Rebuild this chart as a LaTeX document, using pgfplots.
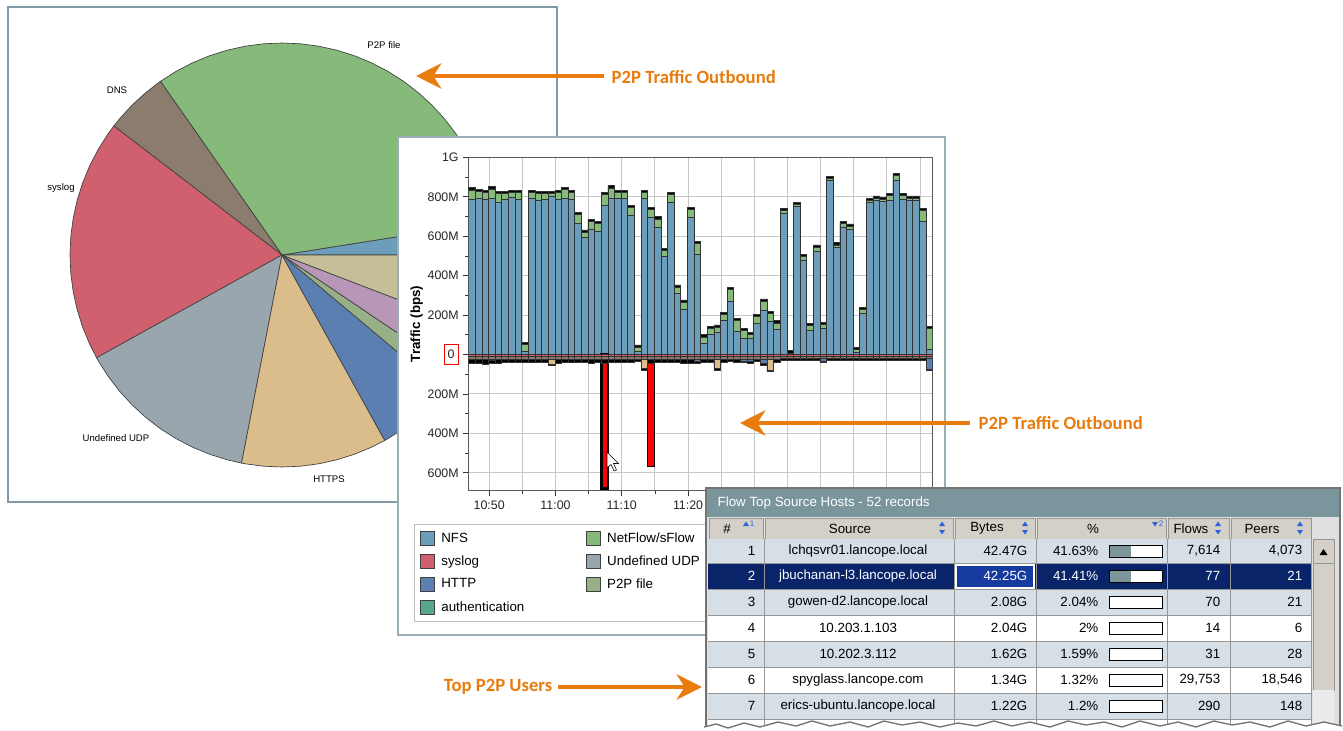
\documentclass[border=0pt]{standalone}
\usepackage{pgfplots}
\pgfplotsset{compat=1.18}
\usepackage{pgfplotstable}
\usepackage{fontspec}
\setmainfont{Liberation Sans}
\newfontfamily\carlito{Carlito}
\usetikzlibrary{arrows.meta}

\definecolor{nfs}{RGB}{108,157,186}
\definecolor{netflow}{RGB}{134,186,122}
\definecolor{syslogc}{RGB}{208,96,110}
\definecolor{httpc}{RGB}{92,127,178}
\definecolor{authc}{RGB}{86,168,138}
\definecolor{udpc}{RGB}{154,166,174}
\definecolor{p2pc}{RGB}{152,176,133}
\definecolor{dnsc}{RGB}{139,124,110}
\definecolor{httpsc}{RGB}{219,189,140}
\definecolor{purplec}{RGB}{183,150,183}
\definecolor{khakic}{RGB}{196,191,150}
\definecolor{orangec}{RGB}{232,124,14}
\definecolor{panelc}{RGB}{128,154,166}
\definecolor{titlec}{RGB}{122,149,155}
\definecolor{headc}{RGB}{212,208,200}
\definecolor{rowc}{RGB}{214,222,230}
\definecolor{selc}{RGB}{10,36,106}
\definecolor{selcell}{RGB}{22,58,160}
\definecolor{gridc}{RGB}{150,150,150}
\definecolor{pctc}{RGB}{124,150,154}
\definecolor{sortc}{RGB}{40,100,220}

\newcommand{\zerobox}{{\setlength{\fboxsep}{2.3pt}\setlength{\fboxrule}{0.7pt}\fcolorbox{red}{white}{\rule[-2pt]{0pt}{9.5pt}0}}}
\newcommand{\tf}{\fontsize{10}{12}\selectfont}
\newcommand{\trow}[7]{%
  \node[anchor=east] at (760,#1) {#2};
  \node at (858,#1) {#3};
  \node[anchor=east] at (1032,#1) {#4};
  \node[anchor=east] at (1103,#1) {#5};
  \node[anchor=east] at (1225,#1) {#6};
  \node[anchor=east] at (1307,#1) {#7};}

% x = bar index (one bar per minute, bar 1 = 10:47), T = top of stack, G = top of NetFlow, B = top of NFS,
% N = bottom of outbound stack, D = DNS layer, R = syslog layer (all in Mbps)
\pgfplotstableread{
x T G B N D R
1 846 835 787 -46 -22 -10
2 839 828 790 -44 -22 -10
3 834 823 785 -48 -22 -10
4 851 840 792 -46 -22 -10
5 826 815 772 -44 -22 -10
6 829 818 787 -42 -22 -10
7 834 823 797 -40 -22 -10
8 834 823 787 -42 -22 -10
9 62 51 15 -40 -22 -10
10 834 823 792 -40 -22 -10
11 829 818 784 -38 -22 -10
12 829 818 787 -40 -22 -10
13 826 815 801 -57 -22 -10
14 834 823 787 -44 -22 -10
15 848 837 792 -40 -22 -10
16 831 820 787 -42 -22 -10
17 721 710 665 -42 -22 -10
18 632 621 595 -40 -22 -10
19 687 676 635 -44 -22 -10
20 674 663 623 -40 -22 -10
21 823 812 758 -44 -22 -10
22 856 845 792 -38 -22 -10
23 831 820 792 -40 -22 -10
24 834 823 792 -42 -22 -10
25 755 744 708 -38 -22 -10
26 49 38 15 -36 -22 -10
27 834 823 792 -80 -22 -10
28 745 734 696 -44 -22 -10
29 699 688 645 -40 -22 -10
30 539 528 497 -42 -22 -10
31 823 812 772 -40 -22 -10
32 353 342 311 -42 -22 -10
33 277 266 230 -44 -22 -10
34 745 734 696 -46 -22 -10
35 573 562 508 -44 -22 -10
36 100 89 57 -40 -22 -10
37 142 131 100 -38 -22 -10
38 150 139 113 -78 -22 -10
39 215 204 172 -40 -22 -10
40 341 330 272 -36 -22 -10
41 184 173 120 -40 -22 -10
42 133 122 83 -42 -22 -10
43 111 100 83 -44 -22 -10
44 204 193 159 -36 -22 -10
45 282 271 226 -54 -22 -10
46 218 207 167 -86 -22 -10
47 171 160 130 -38 -22 -10
48 741 730 716 -32 -18 -8
49 20 6 0 -30 -18 -8
50 772 761 750 -30 -18 -8
51 508 497 480 -30 -18 -8
52 159 148 125 -32 -18 -8
53 556 545 522 -32 -18 -8
54 162 151 133 -40 -18 -8
55 905 894 882 -30 -18 -8
56 567 556 542 -30 -18 -8
57 674 663 644 -32 -18 -8
58 662 651 635 -30 -18 -8
59 35 24 10 -32 -18 -8
60 238 227 209 -30 -18 -8
61 792 781 770 -28 -18 -8
62 804 793 784 -28 -18 -8
63 797 786 775 -30 -18 -8
64 818 807 780 -28 -18 -8
65 919 908 885 -30 -18 -8
66 818 807 787 -30 -18 -8
67 804 793 780 -32 -18 -8
68 804 793 780 -30 -18 -8
69 741 730 677 -28 -18 -8
70 142 131 27 -82 -18 -8
}\bars

\pgfplotsset{
  sw/.style={legend image code/.code={\draw[fill=#1,draw=black!75,line width=0.6pt] (0pt,-5.25pt) rectangle (10.5pt,5.25pt);}},
  bb/.style={ybar, bar width=1, bar shift=0pt, draw=black!80, line width=0.5pt, forget plot},
  sl/.style={fill=#1, draw=black!75, line width=0.5pt, line join=round, data cs=polar, forget plot}
}

\begin{document}
\begin{tikzpicture}
\useasboundingbox (0,0) rectangle (1007.25pt,-548.25pt);
\clip (0,0) rectangle (1007.25pt,-548.25pt);
\begin{scope}[x=0.75pt,y=-0.75pt]
  \fill[white] (0,0) rectangle (1343,731);
  \draw[panelc, line width=1.1pt, fill=white] (8,7) rectangle (557,502);
\end{scope}

% ---------------- pie chart ----------------
\begin{axis}[at={(211.5pt,-191.25pt)}, anchor=center, scale only axis,
  width=318pt, height=318pt, xmin=-1, xmax=1, ymin=-1, ymax=1,
  hide axis, clip=false]
\addplot[sl=nfs] coordinates {(0,0) (0,1) (5,1) (9,1) (0,0)};
\addplot[sl=netflow] coordinates {(0,0) (9,1) (10,1) (15,1) (20,1) (25,1) (30,1) (35,1) (40,1) (45,1) (50,1) (55,1) (60,1) (65,1) (70,1) (75,1) (80,1) (85,1) (90,1) (95,1) (100,1) (105,1) (110,1) (115,1) (120,1) (125,1) (0,0)};
\addplot[sl=dnsc] coordinates {(0,0) (125,1) (130,1) (135,1) (140,1) (142.5,1) (0,0)};
\addplot[sl=syslogc] coordinates {(0,0) (142.5,1) (145,1) (150,1) (155,1) (160,1) (165,1) (170,1) (175,1) (180,1) (185,1) (190,1) (195,1) (200,1) (205,1) (209,1) (0,0)};
\addplot[sl=udpc] coordinates {(0,0) (209,1) (210,1) (215,1) (220,1) (225,1) (230,1) (235,1) (240,1) (245,1) (250,1) (255,1) (259,1) (0,0)};
\addplot[sl=httpsc] coordinates {(0,0) (259,1) (260,1) (265,1) (270,1) (275,1) (280,1) (285,1) (290,1) (295,1) (299,1) (0,0)};
\addplot[sl=httpc] coordinates {(0,0) (299,1) (300,1) (305,1) (310,1) (315,1) (320,1) (0,0)};
\addplot[sl=p2pc] coordinates {(0,0) (320,1) (325,1) (326,1) (0,0)};
\addplot[sl=purplec] coordinates {(0,0) (326,1) (330,1) (335,1) (339,1) (0,0)};
\addplot[sl=khakic] coordinates {(0,0) (339,1) (340,1) (345,1) (350,1) (355,1) (360,1) (0,0)};
\end{axis}

\begin{scope}[x=0.75pt,y=-0.75pt]
  \begin{scope}[font=\fontsize{7.2}{8}\selectfont]
    \node at (384,45) {P2P file};
    \node at (117,90) {DNS};
    \node at (61,188) {syslog};
    \node at (116,438) {Undefined UDP};
    \node at (329,479) {HTTPS};
  \end{scope}
  \draw[orangec, line width=3pt, -{Stealth[length=19pt,width=19pt,inset=6pt]}] (604,76) -- (416,76);
  \node[anchor=west, text=orangec, font=\carlito\bfseries\fontsize{14}{16}\selectfont] at (607,77) {P2P Traffic Outbound};
  % bar chart panel
  \draw[panelc!80, line width=1.1pt, fill=white] (398,137) rectangle (945,635);
\end{scope}

% ---------------- traffic bar chart ----------------
\begin{axis}[at={(351.5pt,-367.9pt)}, anchor=south west, scale only axis,
  width=348pt, height=249.9pt,
  xmin=0.5, xmax=70.5, ymin=-690, ymax=1000,
  xtick={3.6,13.6,23.6,33.6,43.6,53.6,63.6},
  xticklabels={10:50,11:00,11:10,11:20,,,},
  minor xtick={8.6,18.6,28.6,38.6,48.6,58.6,68.6},
  ytick={-600,-400,-200,0,200,400,600,800,1000},
  yticklabels={600M,400M,200M,\zerobox,200M,400M,600M,800M,1G},
  minor ytick={-500,-300,-100,100,300,500,700,900},
  xmajorgrids, xminorgrids, ymajorgrids,
  major grid style={black!22, line width=0.7pt},
  minor grid style={black!22, line width=0.7pt},
  tick pos=left, tick align=outside,
  major tick length=4pt, minor tick length=2.5pt,
  tick style={black!80, line width=0.6pt},
  axis line style={black!65, line width=0.8pt},
  tick label style={font=\fontsize{9.3}{11}\selectfont, text=black!85},
  ylabel={Traffic (bps)},
  ylabel style={font=\bfseries\fontsize{10}{12}\selectfont, at={(axis description cs:-0.112,0.5)}, anchor=center},
  legend columns=2, legend cell align=left,
  legend style={at={(axis description cs:-0.1172,-0.1014)}, anchor=north west,
    draw=black!25, fill=white, font=\fontsize{10}{12}\selectfont,
    inner xsep=4pt, inner ysep=4pt, row sep=4.5pt,
    /tikz/every odd column/.append style={column sep=3pt},
    /tikz/every even column/.append style={column sep=44pt}},
]
% inbound (positive) layers, drawn as overlaid cumulative tops
\addplot[bb, fill=black] table[x=x, y=T] {\bars};
\addplot[bb, fill=netflow] table[x=x, y=G] {\bars};
\addplot[bb, fill=nfs] table[x=x, y=B] {\bars};
% outbound (negative) layers
\addplot[bb, fill=red, draw=black, line width=2pt] coordinates {(21,-680)};
\addplot[bb, fill=red, draw=black, line width=0.9pt] coordinates {(28,-569)};
\addplot[bb, fill=black] table[x=x, y=N] {\bars};
\addplot[bb, fill=httpsc] coordinates {(4,-30) (13,-50) (27,-72) (38,-70) (46,-78)};
\addplot[bb, fill=httpc] coordinates {(35,-36) (42,-34) (43,-36) (45,-46) (54,-34) (70,-74)};
\addplot[bb, fill=dnsc] table[x=x, y=D] {\bars};
\addplot[bb, fill=syslogc] table[x=x, y=R] {\bars};
% legend
\addlegendimage{sw=nfs}\addlegendentry{NFS}
\addlegendimage{sw=netflow}\addlegendentry{NetFlow/sFlow}
\addlegendimage{sw=syslogc}\addlegendentry{syslog}
\addlegendimage{sw=udpc}\addlegendentry{Undefined UDP}
\addlegendimage{sw=httpc}\addlegendentry{HTTP}
\addlegendimage{sw=p2pc}\addlegendentry{P2P file}
\addlegendimage{sw=authc}\addlegendentry{authentication}
\end{axis}

\begin{scope}[x=0.75pt,y=-0.75pt]
  % mouse cursor
  \draw[black, fill=white, line width=0.4pt] (607,452) -- (607,468) -- (611,464.5) -- (614,471) -- (616.5,470) -- (613.5,463.5) -- (618.5,463.5) -- cycle;
  % second callout
  \draw[orangec, line width=3pt, -{Stealth[length=19pt,width=19pt,inset=6pt]}] (970,423) -- (740,423);
  \node[anchor=west, text=orangec, font=\carlito\bfseries\fontsize{14}{16}\selectfont] at (974,423) {P2P Traffic Outbound};

  % ---------------- table ----------------
  \fill[black!55] (705,487) rectangle (1341,735);
  \fill[black!12] (707,489) rectangle (1339,735);
  \fill[titlec] (707,489) rectangle (1339,517);
  \node[anchor=west, text=white, font=\tf] at (713,503.5) {Flow Top Source Hosts - 52 records};
  \foreach \a/\b in {709/763,765/953,955/1035,1037/1166,1168/1229,1231/1311}
    {\draw[gridc, fill=headc] (\a,518) rectangle (\b,539);}
  \fill[rowc] (708,539) rectangle (1311,563);
  \fill[selc] (708,563) rectangle (1311,589);
  \fill[rowc] (708,589) rectangle (1311,615);
  \fill[white] (708,615) rectangle (1311,641);
  \fill[rowc] (708,641) rectangle (1311,667);
  \fill[white] (708,667) rectangle (1311,693);
  \fill[rowc] (708,693) rectangle (1311,719);
  \fill[white] (708,719) rectangle (1311,745);
  \foreach \y in {563,589,615,641,667,693,719} {\draw[gridc] (708,\y) -- (1311,\y);}
  \foreach \x in {764,954,1036,1167,1230,1311} {\draw[gridc] (\x,539) -- (\x,740);}
  \draw[white, line width=0.8pt, fill=selcell] (956,565) rectangle (1034,588);
  % header texts and sort icons
  \begin{scope}[font=\tf]
    \node at (727,528.5) {\#};
    \node at (850,528.5) {Source};
    \node at (987,528.5) {Bytes};
    \node at (1093,528.5) {\%};
    \node at (1191,528.5) {Flows};
    \node at (1262,528.5) {Peers};
  \end{scope}
  \foreach \x in {942,1025,1218,1300} {
    \fill[sortc] (\x-3,526) -- (\x+3,526) -- (\x,521.5) -- cycle;
    \fill[sortc] (\x-3,530) -- (\x+3,530) -- (\x,534.5) -- cycle;}
  \fill[sortc] (743,526) -- (749,526) -- (746,521.5) -- cycle;
  \node[text=sortc, font=\fontsize{6}{7}\selectfont] at (752,523.5) {1};
  \fill[sortc] (1152,522) -- (1158,522) -- (1155,526.5) -- cycle;
  \node[text=sortc, font=\fontsize{6}{7}\selectfont] at (1161,523.5) {2};
  % percentage bars
  \foreach \y/\f in {551/0.4163,576/0.4141,602/0.0204,628/0.02,654/0.0159,680/0.0132,706/0.012} {
    \fill[white] (1109,\y-6) rectangle (1162,\y+6);
    \fill[pctc] (1109,\y-6) rectangle ({1109+53*\f},\y+6);
    \draw[black, line width=0.6pt] (1109,\y-6) rectangle (1162,\y+6);}
  % rows
  \begin{scope}[font=\tf]
    \trow{551}{1}{lchqsvr01.lancope.local}{42.47G}{41.63\%}{7,614}{4,073}
    \begin{scope}[every node/.style={text=white}]
      \trow{576}{2}{jbuchanan-l3.lancope.local}{42.25G}{41.41\%}{77}{21}
    \end{scope}
    \trow{602}{3}{gowen-d2.lancope.local}{2.08G}{2.04\%}{70}{21}
    \trow{628}{4}{10.203.1.103}{2.04G}{2\%}{14}{6}
    \trow{654}{5}{10.202.3.112}{1.62G}{1.59\%}{31}{28}
    \trow{680}{6}{spyglass.lancope.com}{1.34G}{1.32\%}{29,753}{18,546}
    \trow{706}{7}{erics-ubuntu.lancope.local}{1.22G}{1.2\%}{290}{148}
  \end{scope}
  % scrollbar
  \draw[gridc, fill=headc] (1313,539) rectangle (1334,563);
  \fill[black] (1319.5,555) -- (1327.5,555) -- (1323.5,549) -- cycle;
  \draw[gridc, fill=headc] (1313,563) rectangle (1334,690);
  \fill[black!8] (1313,690) rectangle (1334,735);
  % torn bottom edge
  \fill[white] (704,731) -- (704,727) -- (716,724) -- (728,728) -- (744,723) -- (760,727) -- (778,722) -- (796,726) -- (812,721) -- (830,726) -- (850,722) -- (868,727) -- (884,721) -- (902,725) -- (920,722) -- (940,727) -- (958,723) -- (976,726) -- (994,721) -- (1012,726) -- (1030,722) -- (1050,727) -- (1068,721) -- (1086,725) -- (1104,722) -- (1122,727) -- (1140,721) -- (1160,726) -- (1178,722) -- (1196,727) -- (1214,721) -- (1232,725) -- (1250,722) -- (1270,727) -- (1288,721) -- (1306,726) -- (1324,722) -- (1342,726) -- (1343,731) -- cycle;
  \draw[black!55, line width=1pt] (704,727) -- (716,724) -- (728,728) -- (744,723) -- (760,727) -- (778,722) -- (796,726) -- (812,721) -- (830,726) -- (850,722) -- (868,727) -- (884,721) -- (902,725) -- (920,722) -- (940,727) -- (958,723) -- (976,726) -- (994,721) -- (1012,726) -- (1030,722) -- (1050,727) -- (1068,721) -- (1086,725) -- (1104,722) -- (1122,727) -- (1140,721) -- (1160,726) -- (1178,722) -- (1196,727) -- (1214,721) -- (1232,725) -- (1250,722) -- (1270,727) -- (1288,721) -- (1306,726) -- (1324,722) -- (1342,726);

  % third callout
  \draw[orangec, line width=3pt, -{Stealth[length=19pt,width=19pt,inset=6pt]}] (558,687) -- (702,687);
  \node[anchor=east, text=orangec, font=\carlito\bfseries\fontsize{14}{16}\selectfont] at (557,687) {Top P2P Users};
\end{scope}
\end{tikzpicture}
\end{document}
